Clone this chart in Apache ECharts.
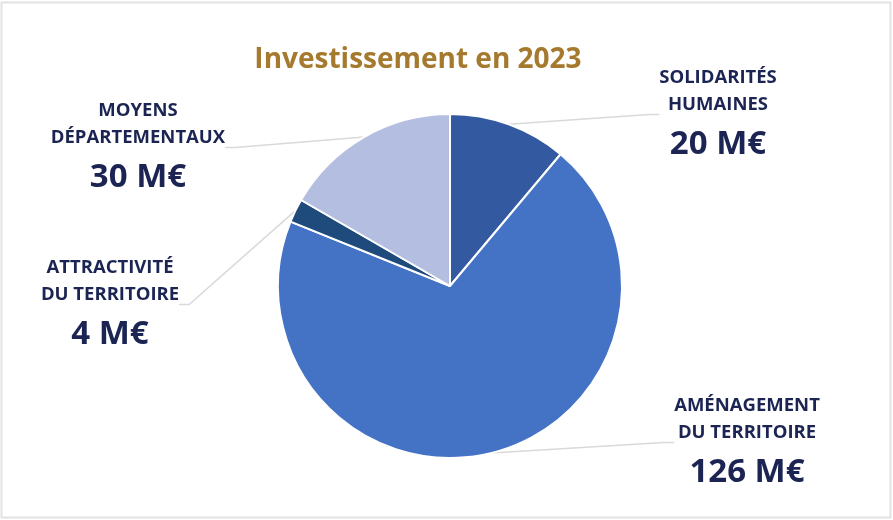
<!DOCTYPE html>
<html>
<head>
<meta charset="utf-8">
<script src="https://cdn.jsdelivr.net/npm/echarts@6/dist/echarts.min.js"></script>
<style>
html,body{margin:0;padding:0;background:#fff;}
#chart{width:893px;height:520px;}
</style>
</head>
<body>
<div id="chart"></div>
<script>
const titleText = "Investissement en 2023";
const categories = ["SOLIDARITÉS\nHUMAINES", "AMÉNAGEMENT\nDU TERRITOIRE", "ATTRACTIVITÉ\nDU TERRITOIRE", "MOYENS\nDÉPARTEMENTAUX"];
const values = [20, 126, 4, 30];
const valueUnit = " M€";
const colors = ["#335AA1", "#4472C4", "#1F4A7C", "#B4BEE0"];

// label anchor positions (layout only)
const labelPos = [[718, 116], [747, 444], [110, 306], [138, 149]];

const chart = echarts.init(document.getElementById('chart'), null, {renderer: 'canvas'});
const font = '"Open Sans", Lato, sans-serif';

chart.setOption({
  animation: false,
  backgroundColor: '#fff',
  title: {
    text: titleText,
    left: 413, top: 41, textAlign: 'center',
    textStyle: {color: '#A57A2E', fontSize: 28, fontWeight: 'bold', fontFamily: font}
  },
  graphic: [{
    type: 'rect', shape: {x: 1.5, y: 2.5, width: 889, height: 515},
    style: {fill: 'none', stroke: '#e2e2e2', lineWidth: 2}, silent: true, z: -1
  }],
  series: [{
    type: 'pie',
    center: [450, 286],
    radius: [0, 172],
    startAngle: 90,
    clockwise: true,
    data: categories.map((c, i) => ({name: c, value: values[i], itemStyle: {color: colors[i]}})),
    itemStyle: {borderColor: '#fff', borderWidth: 2},
    label: {
      show: true,
      position: 'outside',
      formatter: p => '{n|' + p.name.split('\n').join('}\n{n|') + '}\n{v|' + p.value + valueUnit + '}',
      rich: {
        n: {fontSize: 18.5, fontWeight: 'bold', color: '#1B2452', lineHeight: 27, fontFamily: font, align: 'center'},
        v: {fontSize: 33, fontWeight: 'bold', color: '#1B2452', lineHeight: 50, fontFamily: font, align: 'center', padding: [3, 0, 0, 0]}
      }
    },
    labelLine: {show: true, length: 10, length2: 10, lineStyle: {color: '#d9d9d9', width: 1.5}},
    labelLayout: function (params) {
      const p = labelPos[params.dataIndex];
      return {x: p[0], y: p[1], align: 'center', verticalAlign: 'middle'};
    },
    emphasis: {disabled: true}
  }]
});
</script>
</body>
</html>
